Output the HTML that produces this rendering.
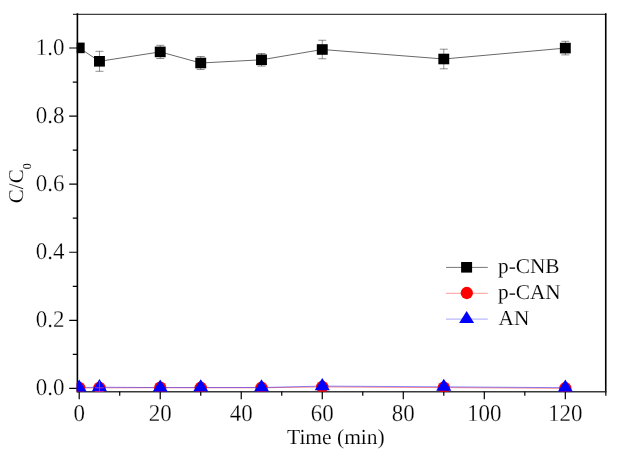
<!DOCTYPE html><html><head><meta charset="utf-8"><style>html,body{margin:0;padding:0;background:#fff;}svg{display:block;}text{font-family:"Liberation Serif",serif;fill:#000;text-rendering:geometricPrecision;stroke:#fff;stroke-width:0.15px;}text.t{stroke-width:0.25px;}svg{will-change:transform;}</style></head><body>
<svg width="621" height="458" viewBox="0 0 621 458">
<rect width="621" height="458" fill="#fff"/>
<defs><clipPath id="c"><rect x="76.7" y="13.5" width="529.05" height="378.2"/></clipPath></defs>
<path d="M73,14.3H606.25" stroke="#000" stroke-opacity="0.75" stroke-width="1.2" fill="none"/>
<path d="M77.4,13.2V392.40000000000003" stroke="#000" stroke-width="1.6" fill="none"/>
<path d="M605.75,13.2V391.6" stroke="#000" stroke-width="1.6" fill="none"/>
<path d="M77.4,391.7H606.55" stroke="#3a3a3a" stroke-width="1.5" fill="none"/>
<path d="M69.2,388.40H77.4M69.2,320.32H77.4M69.2,252.24H77.4M69.2,184.16H77.4M69.2,116.08H77.4M69.2,48.00H77.4M72.8,354.36H77.4M72.8,286.28H77.4M72.8,218.20H77.4M72.8,150.12H77.4M72.8,82.04H77.4M79.20,391.6V399.2M160.22,391.6V399.2M241.24,391.6V399.2M322.26,391.6V399.2M403.28,391.6V399.2M484.30,391.6V399.2M565.32,391.6V399.2M119.71,391.6V395.8M200.73,391.6V395.8M281.75,391.6V395.8M362.77,391.6V395.8M443.79,391.6V395.8M524.81,391.6V395.8M605.83,391.6V395.8" stroke="#000" stroke-width="1.2" fill="none"/>
<g clip-path="url(#c)"><polyline points="79.20,47.90 99.46,61.30 160.22,51.90 200.73,63.00 261.50,59.80 322.26,49.50 443.79,59.00 565.32,48.10" fill="none" stroke="#000" stroke-opacity="0.7" stroke-width="0.85"/><polyline points="79.20,388.00 99.46,387.90 160.22,387.70 200.73,387.80 261.50,387.80 322.26,386.90 443.79,387.60 565.32,388.30" fill="none" stroke="#ff0000" stroke-opacity="0.45" stroke-width="1"/><polyline points="79.20,387.60 99.46,387.20 160.22,387.60 200.73,387.50 261.50,387.50 322.26,386.10 443.79,386.80 565.32,387.70" fill="none" stroke="#0000ff" stroke-opacity="0.45" stroke-width="1"/><path d="M99.46,51.30V71.30M95.46,51.30H103.46M95.46,71.30H103.46" stroke="#000" stroke-width="0.8" fill="none" stroke-opacity="0.55"/><path d="M160.22,45.30V58.50M156.22,45.30H164.22M156.22,58.50H164.22" stroke="#000" stroke-width="0.8" fill="none" stroke-opacity="0.55"/><path d="M200.73,56.50V69.50M196.73,56.50H204.73M196.73,69.50H204.73" stroke="#000" stroke-width="0.8" fill="none" stroke-opacity="0.55"/><path d="M261.50,53.50V66.10M257.50,53.50H265.50M257.50,66.10H265.50" stroke="#000" stroke-width="0.8" fill="none" stroke-opacity="0.55"/><path d="M322.26,40.25V58.75M318.26,40.25H326.26M318.26,58.75H326.26" stroke="#000" stroke-width="0.8" fill="none" stroke-opacity="0.55"/><path d="M443.79,49.20V68.80M439.79,49.20H447.79M439.79,68.80H447.79" stroke="#000" stroke-width="0.8" fill="none" stroke-opacity="0.55"/><path d="M565.32,41.30V54.90M561.32,41.30H569.32M561.32,54.90H569.32" stroke="#000" stroke-width="0.8" fill="none" stroke-opacity="0.55"/><rect x="73.75" y="42.60" width="10.9" height="10.6" fill="#000"/><rect x="94.01" y="56.00" width="10.9" height="10.6" fill="#000"/><rect x="154.77" y="46.60" width="10.9" height="10.6" fill="#000"/><rect x="195.28" y="57.70" width="10.9" height="10.6" fill="#000"/><rect x="256.05" y="54.50" width="10.9" height="10.6" fill="#000"/><rect x="316.81" y="44.20" width="10.9" height="10.6" fill="#000"/><rect x="438.34" y="53.70" width="10.9" height="10.6" fill="#000"/><rect x="559.87" y="42.80" width="10.9" height="10.6" fill="#000"/><circle cx="79.20" cy="388.00" r="6.2" fill="#ff0000"/><circle cx="99.46" cy="387.90" r="6.2" fill="#ff0000"/><circle cx="160.22" cy="387.70" r="6.2" fill="#ff0000"/><circle cx="200.73" cy="387.80" r="6.2" fill="#ff0000"/><circle cx="261.50" cy="387.80" r="6.2" fill="#ff0000"/><circle cx="322.26" cy="386.90" r="6.2" fill="#ff0000"/><circle cx="443.79" cy="387.60" r="6.2" fill="#ff0000"/><circle cx="565.32" cy="388.30" r="6.2" fill="#ff0000"/><path d="M79.20,379.47L86.80,391.67L71.60,391.67Z" fill="#0000ff"/><path d="M99.46,379.07L107.06,391.27L91.86,391.27Z" fill="#0000ff"/><path d="M160.22,379.47L167.82,391.67L152.62,391.67Z" fill="#0000ff"/><path d="M200.73,379.37L208.33,391.57L193.13,391.57Z" fill="#0000ff"/><path d="M261.50,379.37L269.10,391.57L253.90,391.57Z" fill="#0000ff"/><path d="M322.26,377.97L329.86,390.17L314.66,390.17Z" fill="#0000ff"/><path d="M443.79,378.67L451.39,390.87L436.19,390.87Z" fill="#0000ff"/><path d="M565.32,379.57L572.92,391.77L557.72,391.77Z" fill="#0000ff"/><path d="M99.46,381V391.7" stroke="#e0206a" stroke-width="1" fill="none"/><path d="M95.16,387.8H103.76M95.16,391.4H103.76" stroke="#b030c0" stroke-width="1" fill="none"/></g>
<text transform="translate(64.4,395.30) scale(1,1.04)" class="t" font-size="23" text-anchor="end">0.0</text>
<text transform="translate(64.4,327.22) scale(1,1.04)" class="t" font-size="23" text-anchor="end">0.2</text>
<text transform="translate(64.4,259.14) scale(1,1.04)" class="t" font-size="23" text-anchor="end">0.4</text>
<text transform="translate(64.4,191.06) scale(1,1.04)" class="t" font-size="23" text-anchor="end">0.6</text>
<text transform="translate(64.4,122.98) scale(1,1.04)" class="t" font-size="23" text-anchor="end">0.8</text>
<text transform="translate(64.4,54.90) scale(1,1.04)" class="t" font-size="23" text-anchor="end">1.0</text>
<text transform="translate(79.20,420.6) scale(1,1.05)" class="t" font-size="23" text-anchor="middle">0</text>
<text transform="translate(160.22,420.6) scale(1,1.05)" class="t" font-size="23" text-anchor="middle">20</text>
<text transform="translate(241.24,420.6) scale(1,1.05)" class="t" font-size="23" text-anchor="middle">40</text>
<text transform="translate(322.26,420.6) scale(1,1.05)" class="t" font-size="23" text-anchor="middle">60</text>
<text transform="translate(403.28,420.6) scale(1,1.05)" class="t" font-size="23" text-anchor="middle">80</text>
<text transform="translate(484.30,420.6) scale(1,1.05)" class="t" font-size="23" text-anchor="middle">100</text>
<text transform="translate(565.32,420.6) scale(1,1.05)" class="t" font-size="23" text-anchor="middle">120</text>
<text x="287" y="444" font-size="21.5">Time (min)</text>
<text transform="translate(23.3,203.2) rotate(-90)" font-size="21">C/C<tspan font-size="12" dy="7.9" style="stroke-width:0">0</tspan></text>
<path d="M446,267.4H487.8" stroke="#000" stroke-width="0.9" stroke-opacity="0.6"/>
<rect x="461.1" y="262" width="11" height="10.6" fill="#000"/>
<path d="M446,293.3H487.8" stroke="#ff0000" stroke-width="1" stroke-opacity="0.4"/>
<circle cx="466.8" cy="293" r="6.15" fill="#ff0000"/>
<path d="M446,319.1H487.8" stroke="#0000ff" stroke-width="1" stroke-opacity="0.35"/>
<path d="M466.6,310.9L474.1,322.9L459.1,322.9Z" fill="#0000ff"/>
<text x="498" y="272.8" font-size="21.3">p-CNB</text>
<text x="498" y="299.2" font-size="21.3">p-CAN</text>
<text x="498.6" y="325" font-size="21.3">AN</text>
</svg></body></html>
